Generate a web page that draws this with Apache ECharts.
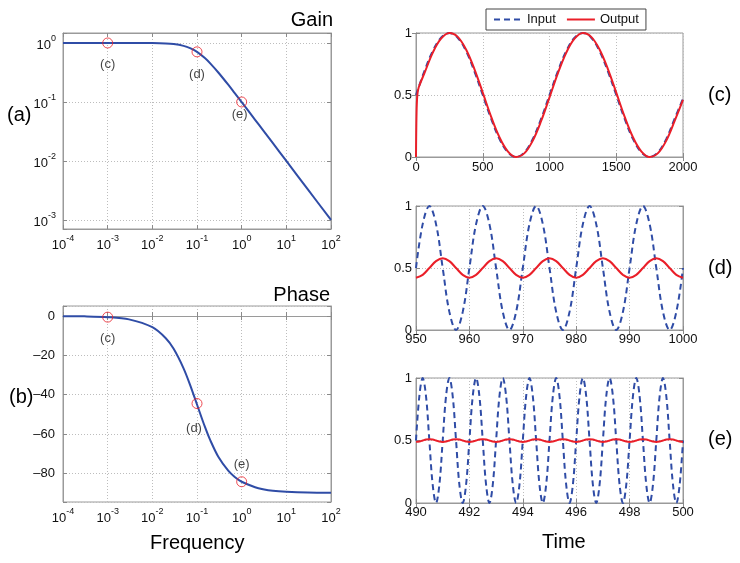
<!DOCTYPE html>
<html><head><meta charset="utf-8">
<script src="https://cdn.jsdelivr.net/npm/echarts@6/dist/echarts.min.js"></script>
<style>html,body{margin:0;padding:0;background:#fff}#c{width:740px;height:563px}</style>
</head><body><div id="c"></div>
<script>
// ---------- data ----------
const freqs = [1e-4, 3e-4, 1e-3, 3e-3, 0.01, 0.02, 0.03, 0.05, 0.07, 0.1, 0.15, 0.2, 0.3, 0.5, 0.7, 1, 2, 3, 5, 10, 30, 100];
const gainVals = [1, 1, 1, 0.9996, 0.995, 0.981, 0.958, 0.894, 0.819, 0.707, 0.555, 0.447, 0.316, 0.196, 0.141, 0.0995, 0.0499, 0.0333, 0.02, 0.01, 0.00333, 0.001];
const phaseVals = [-0.06, -0.17, -0.57, -1.7, -5.7, -11.3, -16.7, -26.6, -35.0, -45.0, -56.3, -63.4, -71.6, -78.7, -81.9, -84.3, -87.1, -88.1, -88.9, -89.4, -89.8, -89.9];

const markerFreqs = [1e-3, 0.1, 1];
const markerGain = [1, 0.707, 0.1];
const markerPhase = [-0.57, -44.5, -84.3];
const markerNames = ['(c)', '(d)', '(e)'];

const freqTicksLabel = ['10^-4', '10^-3', '10^-2', '10^-1', '10^0', '10^1', '10^2'];

// (c) slow input
const tC = [0, 62.5, 125, 187.5, 250, 312.5, 375, 437.5, 500, 562.5, 625, 687.5, 750, 812.5, 875, 937.5,
  1000, 1062.5, 1125, 1187.5, 1250, 1312.5, 1375, 1437.5, 1500, 1562.5, 1625, 1687.5, 1750, 1812.5, 1875, 1937.5, 2000];
const inC = [0.5, 0.691, 0.854, 0.962, 1, 0.962, 0.854, 0.691, 0.5, 0.309, 0.146, 0.038, 0, 0.038, 0.146, 0.309,
  0.5, 0.691, 0.854, 0.962, 1, 0.962, 0.854, 0.691, 0.5, 0.309, 0.146, 0.038, 0, 0.038, 0.146, 0.309, 0.47];
const tOutC = [0, 4, 10, 20, 62.5, 125, 187.5, 250, 312.5, 375, 437.5, 500, 562.5, 625, 687.5, 750, 812.5, 875, 937.5,
  1000, 1062.5, 1125, 1187.5, 1250, 1312.5, 1375, 1437.5, 1500, 1562.5, 1625, 1687.5, 1750, 1812.5, 1875, 1937.5, 2000];
const outC = [0, 0.35, 0.5, 0.56, 0.674, 0.84, 0.954, 1, 0.969, 0.867, 0.709, 0.519, 0.326, 0.16, 0.046, 0, 0.031, 0.133, 0.291,
  0.481, 0.674, 0.84, 0.954, 1, 0.969, 0.867, 0.709, 0.519, 0.326, 0.16, 0.046, 0, 0.031, 0.133, 0.291, 0.46];

// (d) medium input
const tD = [950, 951.25, 952.5, 953.75, 955, 956.25, 957.5, 958.75, 960, 961.25, 962.5, 963.75, 965, 966.25, 967.5, 968.75,
  970, 971.25, 972.5, 973.75, 975, 976.25, 977.5, 978.75, 980, 981.25, 982.5, 983.75, 985, 986.25, 987.5, 988.75,
  990, 991.25, 992.5, 993.75, 995, 996.25, 997.5, 998.75, 1000];
const inD = [0.5, 0.854, 1, 0.854, 0.5, 0.146, 0, 0.146, 0.5, 0.854, 1, 0.854, 0.5, 0.146, 0, 0.146,
  0.5, 0.854, 1, 0.854, 0.5, 0.146, 0, 0.146, 0.5, 0.854, 1, 0.854, 0.5, 0.146, 0, 0.146,
  0.5, 0.854, 1, 0.854, 0.5, 0.146, 0, 0.146, 0.5];
const outD = [0.422, 0.445, 0.5, 0.555, 0.578, 0.555, 0.5, 0.445, 0.422, 0.445, 0.5, 0.555, 0.578, 0.555, 0.5, 0.445,
  0.422, 0.445, 0.5, 0.555, 0.578, 0.555, 0.5, 0.445, 0.422, 0.445, 0.5, 0.555, 0.578, 0.555, 0.5, 0.445,
  0.422, 0.445, 0.5, 0.555, 0.578, 0.555, 0.5, 0.445, 0.422];

// (e) fast input
const tE = [490, 490.125, 490.25, 490.375, 490.5, 490.625, 490.75, 490.875,
  491, 491.125, 491.25, 491.375, 491.5, 491.625, 491.75, 491.875,
  492, 492.125, 492.25, 492.375, 492.5, 492.625, 492.75, 492.875,
  493, 493.125, 493.25, 493.375, 493.5, 493.625, 493.75, 493.875,
  494, 494.125, 494.25, 494.375, 494.5, 494.625, 494.75, 494.875,
  495, 495.125, 495.25, 495.375, 495.5, 495.625, 495.75, 495.875,
  496, 496.125, 496.25, 496.375, 496.5, 496.625, 496.75, 496.875,
  497, 497.125, 497.25, 497.375, 497.5, 497.625, 497.75, 497.875,
  498, 498.125, 498.25, 498.375, 498.5, 498.625, 498.75, 498.875,
  499, 499.125, 499.25, 499.375, 499.5, 499.625, 499.75, 499.875, 500];
const inE = [0.5, 0.854, 1, 0.854, 0.5, 0.146, 0, 0.146,
  0.5, 0.854, 1, 0.854, 0.5, 0.146, 0, 0.146,
  0.5, 0.854, 1, 0.854, 0.5, 0.146, 0, 0.146,
  0.5, 0.854, 1, 0.854, 0.5, 0.146, 0, 0.146,
  0.5, 0.854, 1, 0.854, 0.5, 0.146, 0, 0.146,
  0.5, 0.854, 1, 0.854, 0.5, 0.146, 0, 0.146,
  0.5, 0.854, 1, 0.854, 0.5, 0.146, 0, 0.146,
  0.5, 0.854, 1, 0.854, 0.5, 0.146, 0, 0.146,
  0.5, 0.854, 1, 0.854, 0.5, 0.146, 0, 0.146,
  0.5, 0.854, 1, 0.854, 0.5, 0.146, 0, 0.146, 0.5];
const outE = [0.489, 0.492, 0.5, 0.508, 0.511, 0.508, 0.5, 0.492,
  0.489, 0.492, 0.5, 0.508, 0.511, 0.508, 0.5, 0.492,
  0.489, 0.492, 0.5, 0.508, 0.511, 0.508, 0.5, 0.492,
  0.489, 0.492, 0.5, 0.508, 0.511, 0.508, 0.5, 0.492,
  0.489, 0.492, 0.5, 0.508, 0.511, 0.508, 0.5, 0.492,
  0.489, 0.492, 0.5, 0.508, 0.511, 0.508, 0.5, 0.492,
  0.489, 0.492, 0.5, 0.508, 0.511, 0.508, 0.5, 0.492,
  0.489, 0.492, 0.5, 0.508, 0.511, 0.508, 0.5, 0.492,
  0.489, 0.492, 0.5, 0.508, 0.511, 0.508, 0.5, 0.492,
  0.489, 0.492, 0.5, 0.508, 0.511, 0.508, 0.5, 0.492, 0.489];

// ---------- styling ----------
const FONT = '"Liberation Sans", Arial, Helvetica, sans-serif';
const BLUE = '#2f4ca6';
const RED = '#ea1f29';
const BOX = '#9a9a9a';
const TXT = '#111';
const gainLabelOffset = [[0, 21], [0, 23], [-2, 12]];
const phaseLabelOffset = [[0, 21], [-3, 25], [0, -17]];

const grids = [
  {left: 63, top: 33, width: 268, height: 196},
  {left: 63, top: 306, width: 268, height: 196},
  {left: 416, top: 33, width: 267, height: 124},
  {left: 416, top: 206, width: 267, height: 124},
  {left: 416, top: 378, width: 267, height: 125}
].map(g => Object.assign({show: true, borderColor: BOX, borderWidth: 1, backgroundColor: '#fff'}, g));

const splitLine = {show: true, lineStyle: {type: [1, 2], color: '#bdbdbd', width: 1}};
const tick = {show: true, inside: true, length: 4, lineStyle: {color: '#8a8a8a'}};
const axLine = {show: true, lineStyle: {color: BOX, width: 1}};

function supFmt(v) {
  const l = Math.log10(v);
  const e = Math.round(l);
  if (Math.abs(l - e) > 1e-6) return '';
  const lbl = freqTicksLabel.find(s => s === '10^' + e) || ('10^' + e);
  const parts = lbl.split('^');
  return '{b|' + parts[0] + '}{s|' + parts[1] + '}';
}
const supRich = {
  b: {fontSize: 13, fontFamily: FONT, color: TXT, lineHeight: 18, verticalAlign: 'bottom'},
  s: {fontSize: 9, fontFamily: FONT, color: TXT, lineHeight: 10, verticalAlign: 'top'}
};
function phaseFmt(v) {
  if (Math.abs(v % 20) > 1e-6) return '';
  return v < 0 ? '\u2013' + (-v) : String(v);
}
const plainFmt = v => String(v);
const lbl = (extra) => Object.assign({color: TXT, fontSize: 13, fontFamily: FONT}, extra || {});

const xDefs = [
  {type: 'log', logBase: 10, min: 1e-4, max: 1e2, axisLabel: lbl({formatter: supFmt, rich: supRich, margin: 5})},
  {type: 'log', logBase: 10, min: 1e-4, max: 1e2, axisLabel: lbl({formatter: supFmt, rich: supRich, margin: 5})},
  {type: 'value', min: 0, max: 2000, interval: 500, axisLabel: lbl({formatter: plainFmt, margin: 4})},
  {type: 'value', min: 950, max: 1000, interval: 10, axisLabel: lbl({formatter: plainFmt, margin: 3})},
  {type: 'value', min: 490, max: 500, interval: 2, axisLabel: lbl({formatter: plainFmt, margin: 3})}
];
const yDefs = [
  {type: 'log', logBase: 10, min: 7.03e-4, max: 1.476, axisLabel: lbl({formatter: supFmt, rich: supRich, margin: 7})},
  {type: 'value', min: -94.6, max: 5.1, splitNumber: 5, axisLabel: lbl({formatter: phaseFmt, margin: 8})},
  {type: 'value', min: 0, max: 1, interval: 0.5, axisLabel: lbl({formatter: plainFmt, margin: 4})},
  {type: 'value', min: 0, max: 1, interval: 0.5, axisLabel: lbl({formatter: plainFmt, margin: 4})},
  {type: 'value', min: 0, max: 1, interval: 0.5, axisLabel: lbl({formatter: plainFmt, margin: 4})}
];

const xAxis = [], yAxis = [];
xDefs.forEach((d, i) => xAxis.push(Object.assign({gridIndex: i, position: 'bottom', axisLine: axLine, axisTick: tick, splitLine: splitLine}, d)));
xDefs.forEach((d, i) => xAxis.push(Object.assign({}, d, {gridIndex: i, position: 'top', axisLine: axLine, axisTick: tick, splitLine: {show: false}, axisLabel: {show: false}})));
yDefs.forEach((d, i) => yAxis.push(Object.assign({gridIndex: i, position: 'left', axisLine: axLine, axisTick: tick, splitLine: splitLine}, d)));
yDefs.forEach((d, i) => yAxis.push(Object.assign({}, d, {gridIndex: i, position: 'right', axisLine: axLine, axisTick: tick, splitLine: {show: false}, axisLabel: {show: false}})));

const zip = (xs, ys) => xs.map((x, i) => [x, ys[i]]);

function markerSeries(gi, ys, offsets) {
  return {
    type: 'scatter', xAxisIndex: gi, yAxisIndex: gi, z: 5,
    symbol: 'circle', symbolSize: 10,
    itemStyle: {color: 'rgba(0,0,0,0)', borderColor: RED, borderWidth: 1},
    label: {show: true, position: 'inside', color: TXT, fontSize: 13, fontFamily: FONT,
      formatter: p => markerNames[p.dataIndex]},
    data: markerFreqs.map((f, i) => ({value: [f, ys[i]], label: {offset: offsets[i]}}))
  };
}
const inStyle = {color: BLUE, width: 2, type: [6, 4]};
const outStyle = {color: RED, width: 2};
function tsSeries(gi, name, data, style) {
  return {type: 'line', name: name, xAxisIndex: gi, yAxisIndex: gi, data: data, smooth: 0.37,
    symbol: 'none', showSymbol: false, lineStyle: style, itemStyle: {color: style.color}, clip: true};
}

const series = [
  {type: 'line', xAxisIndex: 0, yAxisIndex: 0, data: zip(freqs, gainVals), smooth: 0.3, symbol: 'none',
    lineStyle: {color: BLUE, width: 2}},
  markerSeries(0, markerGain, gainLabelOffset),
  {type: 'line', xAxisIndex: 1, yAxisIndex: 1, data: zip(freqs, phaseVals), smooth: 0.3, symbol: 'none',
    lineStyle: {color: BLUE, width: 2}},
  markerSeries(1, markerPhase, phaseLabelOffset),
  tsSeries(2, 'Input', zip(tC, inC), inStyle),
  tsSeries(2, 'Output', zip(tOutC, outC), outStyle),
  tsSeries(3, 'Input', zip(tD, inD), inStyle),
  tsSeries(3, 'Output', zip(tD, outD), outStyle),
  tsSeries(4, 'Input', zip(tE, inE), inStyle),
  tsSeries(4, 'Output', zip(tE, outE), outStyle)
];

const big = {fontSize: 20, fontWeight: 'normal', color: '#000', fontFamily: FONT};
const title = [
  {text: 'Gain', right: 407, top: 10},
  {text: 'Phase', right: 410, top: 285},
  {text: '(a)', left: 7, top: 105},
  {text: '(b)', left: 9, top: 387},
  {text: '(c)', left: 708, top: 85},
  {text: '(d)', left: 708, top: 258},
  {text: '(e)', left: 708, top: 429},
  {text: 'Frequency', left: 150, top: 533},
  {text: 'Time', left: 542, top: 532}
].map(t => Object.assign({padding: 0, textStyle: big}, t));

const chart = echarts.init(document.getElementById('c'), null, {renderer: 'canvas'});
chart.setOption({
  animation: false,
  backgroundColor: '#fff',
  title: title,
  legend: {
    data: ['Input', 'Output'], left: 486, top: 9, orient: 'horizontal',
    itemWidth: 28, itemHeight: 12, itemGap: 10, padding: [4, 7],
    itemStyle: {opacity: 0},
    borderColor: '#444', borderWidth: 1, backgroundColor: '#fff',
    textStyle: {fontSize: 13, fontFamily: FONT, color: TXT}
  },
  grid: grids,
  xAxis: xAxis,
  yAxis: yAxis,
  series: series
});
</script></body></html>
